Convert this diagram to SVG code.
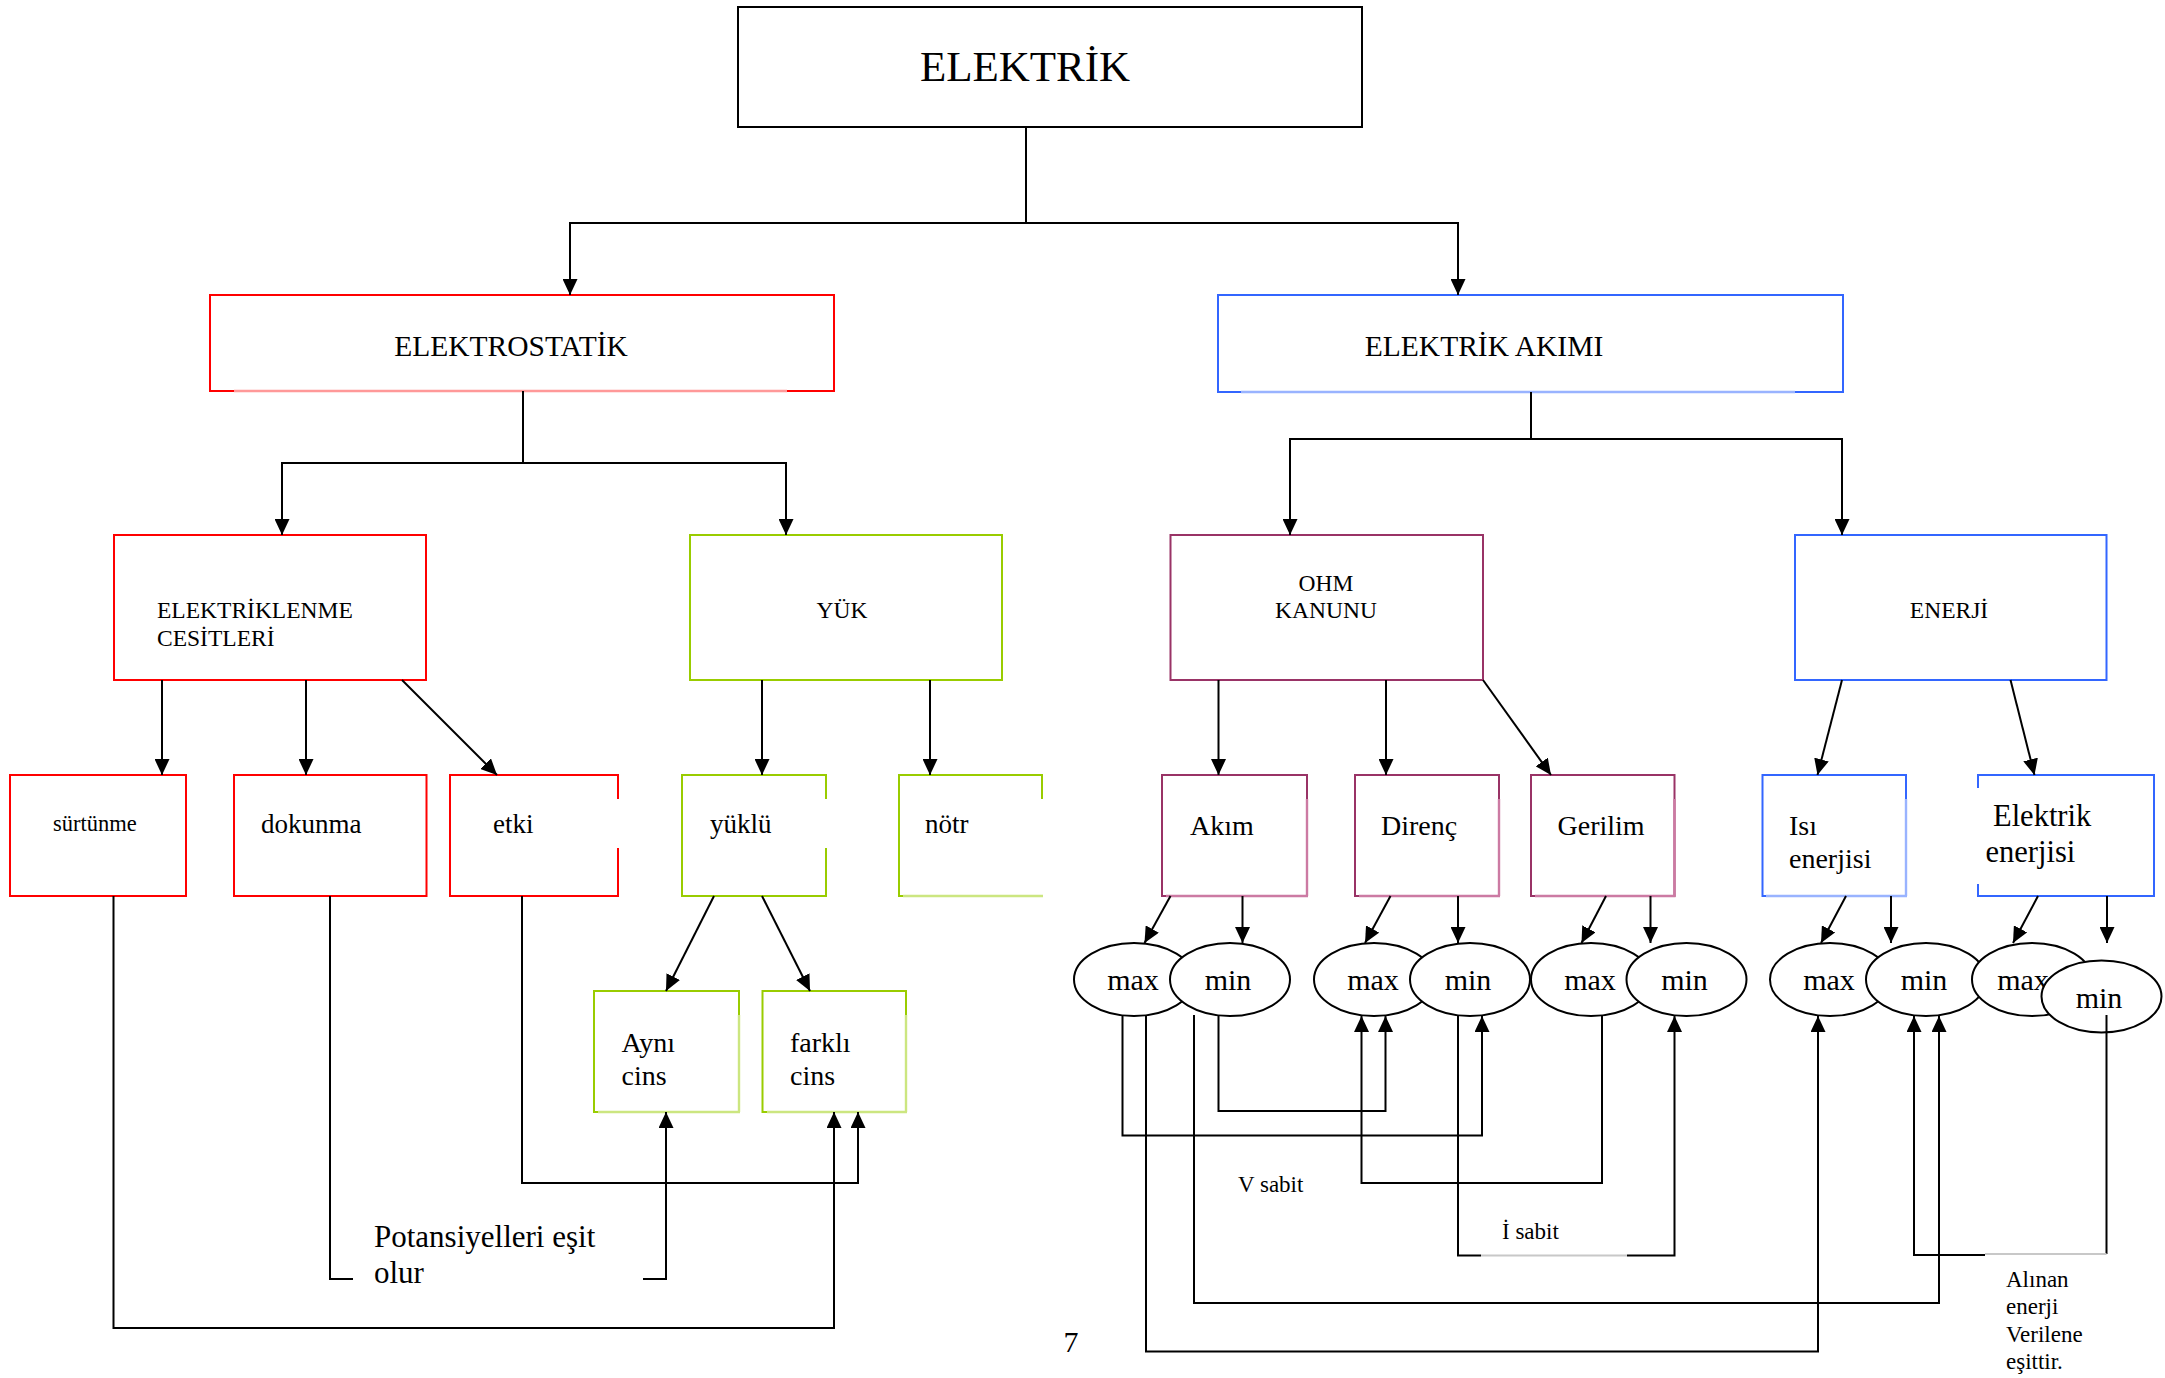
<svg xmlns="http://www.w3.org/2000/svg" width="2165" height="1378" viewBox="0 0 2165 1378">
<style>
text{font-family:"Liberation Serif","Times New Roman",serif;fill:#000}
.k{fill:#fff;stroke:#000;stroke-width:2}
.r{fill:#fff;stroke:#ff0000;stroke-width:2}
.g{fill:#fff;stroke:#99cc00;stroke-width:2}
.p{fill:#fff;stroke:#993366;stroke-width:2}
.b{fill:#fff;stroke:#3366ff;stroke-width:2}
.lr{stroke:#ff9999;stroke-width:2.4;fill:none}
.lg{stroke:#cce680;stroke-width:2.4;fill:none}
.lp{stroke:#cc7aa3;stroke-width:2.4;fill:none}
.lb{stroke:#99b3ff;stroke-width:2.4;fill:none}
.w{stroke:#fff;stroke-width:3;fill:none}
.e{fill:#fff;stroke:#000;stroke-width:2}
.c{fill:none;stroke:#000;stroke-width:2}
.ca{fill:none;stroke:#000;stroke-width:2;marker-end:url(#ah)}
.lc{fill:none;stroke:#c8c8c8;stroke-width:2}
.t23{font-size:23.5px}
.t27{font-size:27px}
.t29{font-size:29.5px}
.t30{font-size:30px}
</style>
<defs>
<marker id="ah" markerUnits="userSpaceOnUse" markerWidth="16" markerHeight="15" refX="16" refY="7.5" orient="auto">
<path d="M0,0 L16,7.5 L0,15 z" fill="#000"/>
</marker>
</defs>

<g id="n-elektrik"><rect class="k" x="738" y="7" width="624" height="120"/><text x="1025" y="81" font-size="43" text-anchor="middle">ELEKTRİK</text></g>

<g id="n-elektrostatik"><rect class="r" x="210" y="295" width="624" height="96"/><line class="lr" x1="234" y1="391" x2="787" y2="391"/><text class="t29" x="511" y="356" text-anchor="middle">ELEKTROSTATİK</text></g>
<g id="n-akimi"><rect class="b" x="1218" y="295" width="625" height="97"/><line class="lb" x1="1241" y1="392" x2="1795" y2="392"/><text class="t29" x="1484" y="356" text-anchor="middle">ELEKTRİK AKIMI</text></g>

<g id="n-elektriklenme"><rect class="r" x="114" y="535" width="312" height="145"/><text class="t23" x="157" y="618">ELEKTRİKLENME</text><text class="t23" x="157" y="646">CESİTLERİ</text></g>
<g id="n-yuk"><rect class="g" x="690" y="535" width="312" height="145"/><text class="t23" x="842" y="618" text-anchor="middle">YÜK</text></g>
<g id="n-ohm"><rect class="p" x="1170.5" y="535" width="312.5" height="145"/><text class="t23" x="1326" y="591" text-anchor="middle">OHM</text><text class="t23" x="1326" y="618" text-anchor="middle">KANUNU</text></g>
<g id="n-enerji"><rect class="b" x="1795" y="535" width="311.5" height="145"/><text class="t23" x="1949" y="618" text-anchor="middle">ENERJİ</text></g>

<g id="n-surtunme"><rect class="r" x="10" y="775" width="176" height="121"/><text x="53" y="831" font-size="22.5">sürtünme</text></g>
<g id="n-dokunma"><rect class="r" x="234" y="775" width="192.5" height="121"/><text class="t27" x="261" y="833">dokunma</text></g>
<g id="n-etki"><rect class="r" x="450" y="775" width="168" height="121"/><line class="w" x1="618" y1="799" x2="618" y2="848"/><text class="t27" x="493" y="833">etki</text></g>
<g id="n-yuklu"><rect class="g" x="682" y="775" width="144" height="121"/><line class="w" x1="826" y1="799" x2="826" y2="848"/><text class="t27" x="710" y="833">yüklü</text></g>
<g id="n-notr"><rect class="g" x="899" y="775" width="143" height="121"/><line class="w" x1="1042" y1="799" x2="1042" y2="897"/><line class="lg" x1="903" y1="896" x2="1043" y2="896"/><text class="t27" x="925" y="833">nötr</text></g>

<g id="n-ayni"><rect class="g" x="594" y="991" width="145" height="121"/><line class="lg" x1="739" y1="1015" x2="739" y2="1112"/><line class="lg" x1="598" y1="1112" x2="740" y2="1112"/><text x="621.5" y="1052" font-size="28">Aynı</text><text x="621.5" y="1085" font-size="28">cins</text></g>
<g id="n-farkli"><rect class="g" x="762.5" y="991" width="143.5" height="121"/><line class="lg" x1="906" y1="1015" x2="906" y2="1112"/><line class="lg" x1="767" y1="1112" x2="907" y2="1112"/><text x="790" y="1052" font-size="28">farklı</text><text x="790" y="1085" font-size="28">cins</text></g>

<g id="n-akim"><rect class="p" x="1162" y="775" width="145" height="121"/><line class="lp" x1="1307" y1="799" x2="1307" y2="896"/><line class="lp" x1="1166" y1="896" x2="1308" y2="896"/><text x="1190" y="835" font-size="28">Akım</text></g>
<g id="n-direnc"><rect class="p" x="1355" y="775" width="144" height="121"/><line class="lp" x1="1499" y1="799" x2="1499" y2="896"/><line class="lp" x1="1359" y1="896" x2="1500" y2="896"/><text x="1381" y="835" font-size="28">Direnç</text></g>
<g id="n-gerilim"><rect class="p" x="1531" y="775" width="143.5" height="121"/><line class="lp" x1="1674.5" y1="799" x2="1674.5" y2="896"/><line class="lp" x1="1535" y1="896" x2="1675.5" y2="896"/><text x="1557.5" y="835" font-size="28">Gerilim</text></g>
<g id="n-isi"><rect class="b" x="1762.5" y="775" width="143.5" height="121"/><line class="lb" x1="1906" y1="799" x2="1906" y2="896"/><line class="lb" x1="1766" y1="896" x2="1907" y2="896"/><text x="1789" y="835" font-size="28">Isı</text><text x="1789" y="868" font-size="28">enerjisi</text></g>
<g id="n-elenerji"><rect class="b" x="1978" y="775" width="176" height="121"/><line class="w" x1="1978" y1="788" x2="1978" y2="884"/><text x="1993" y="826" font-size="30.5">Elektrik</text><text x="1985.5" y="862" font-size="30.5">enerjisi</text></g>

<g id="n-max1"><ellipse class="e" cx="1134" cy="979.5" rx="60" ry="36.5"/><text class="t30" x="1133" y="990" text-anchor="middle">max</text></g>
<g id="n-min1"><ellipse class="e" cx="1230" cy="979.5" rx="60" ry="36.5"/><text class="t30" x="1228" y="990" text-anchor="middle">min</text></g>
<g id="n-max2"><ellipse class="e" cx="1374" cy="979.5" rx="60" ry="36.5"/><text class="t30" x="1373" y="990" text-anchor="middle">max</text></g>
<g id="n-min2"><ellipse class="e" cx="1470" cy="979.5" rx="60" ry="36.5"/><text class="t30" x="1468" y="990" text-anchor="middle">min</text></g>
<g id="n-max3"><ellipse class="e" cx="1591" cy="979.5" rx="60" ry="36.5"/><text class="t30" x="1590" y="990" text-anchor="middle">max</text></g>
<g id="n-min3"><ellipse class="e" cx="1686.5" cy="979.5" rx="60" ry="36.5"/><text class="t30" x="1684.5" y="990" text-anchor="middle">min</text></g>
<g id="n-max4"><ellipse class="e" cx="1830" cy="979.5" rx="60" ry="36.5"/><text class="t30" x="1829" y="990" text-anchor="middle">max</text></g>
<g id="n-min4"><ellipse class="e" cx="1926" cy="979.5" rx="60" ry="36.5"/><text class="t30" x="1924" y="990" text-anchor="middle">min</text></g>
<g id="n-max5"><ellipse class="e" cx="2032" cy="979.5" rx="60" ry="36.5"/><text class="t30" x="2023" y="990" text-anchor="middle">max</text></g>
<g id="n-min5"><ellipse class="e" cx="2101.5" cy="996.5" rx="60" ry="36"/><text class="t30" x="2099" y="1008" text-anchor="middle">min</text></g>

<g id="connectors">
<path class="ca" d="M1026,127 V223 H570 V295"/>
<path class="ca" d="M1026,223 H1458 V295"/>
<path class="ca" d="M523,391 V463 H282 V535"/>
<path class="ca" d="M523,463 H786 V535"/>
<path class="ca" d="M1531,392 V439 H1290 V535"/>
<path class="ca" d="M1531,439 H1842 V535"/>
<path class="ca" d="M162,680 V775"/>
<path class="ca" d="M306,680 V775"/>
<path class="ca" d="M402,680 L497,775"/>
<path class="ca" d="M762,680 V775"/>
<path class="ca" d="M930,680 V775"/>
<path class="ca" d="M714,896 L666,991"/>
<path class="ca" d="M762,896 L810,991"/>
<path class="ca" d="M1218.5,680 V775"/>
<path class="ca" d="M1386,680 V775"/>
<path class="ca" d="M1483,680 L1551,775"/>
<path class="ca" d="M1842,680 L1817.5,775"/>
<path class="ca" d="M2010.5,680 L2034.5,775"/>
<path class="ca" d="M1170.5,896 L1144.5,943"/>
<path class="ca" d="M1242.5,896 V943"/>
<path class="ca" d="M1390.5,896 L1365,943"/>
<path class="ca" d="M1458,896 V943"/>
<path class="ca" d="M1606,896 L1581.5,943"/>
<path class="ca" d="M1650.5,896 V943"/>
<path class="ca" d="M1846,896 L1821,943"/>
<path class="ca" d="M1891,896 V943"/>
<path class="ca" d="M2038,896 L2013,943"/>
<path class="ca" d="M2107,896 V943"/>
<path class="ca" d="M113.5,896 V1328 H834 V1112"/>
<path class="c" d="M330,896 V1279 H353"/>
<path class="ca" d="M643,1279 H666 V1112"/>
<path class="ca" d="M522,896 V1183 H858 V1112"/>
<path class="ca" d="M1122.5,1015.5 V1135.5 H1482 V1016"/>
<path class="ca" d="M1146,1015.5 V1351.5 H1818 V1016"/>
<path class="ca" d="M1194,1015 V1303 H1939 V1016"/>
<path class="ca" d="M1218.5,1015.5 V1111 H1385.5 V1016"/>
<path class="ca" d="M1602,1015.5 V1183 H1361.5 V1016"/>
<path class="c" d="M1458,1015.5 V1255.5 H1481"/>
<path class="lc" d="M1481,1255.5 H1627"/>
<path class="ca" d="M1627,1255.5 H1674.5 V1016"/>
<path class="c" d="M2106.5,1015 V1254"/>
<path class="lc" d="M2106.5,1254 H1985"/>
<path class="ca" d="M1985,1255 H1914 V1016"/>
</g>

<g id="labels">
<text x="374" y="1247" font-size="31">Potansiyelleri eşit</text>
<text x="374" y="1283" font-size="31">olur</text>
<text x="1238" y="1192" font-size="23">V sabit</text>
<text x="1502" y="1239" font-size="23">İ sabit</text>
<text x="2006" y="1287" font-size="23">Alınan</text>
<text x="2006" y="1314" font-size="23">enerji</text>
<text x="2006" y="1342" font-size="23">Verilene</text>
<text x="2006" y="1369" font-size="23">eşittir.</text>
<text x="1071" y="1352" font-size="30" text-anchor="middle">7</text>
</g>
</svg>
